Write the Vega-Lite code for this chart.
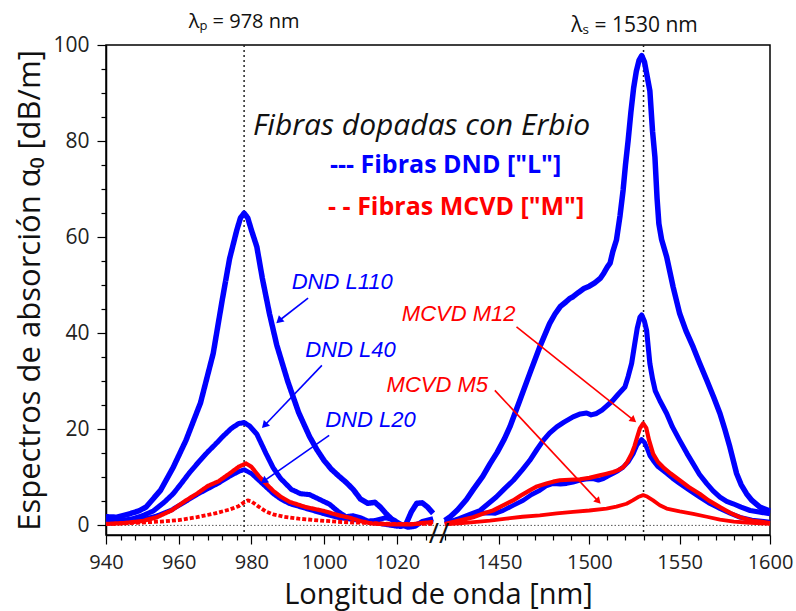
{
  "$schema": "https://vega.github.io/schema/vega-lite/v6.json",
  "width": 664,
  "height": 490,
  "autosize": {"type": "none"},
  "padding": {"left": 106, "top": 45, "right": 26, "bottom": 76},
  "background": "white",
  "config": {"view": {"stroke": "black", "strokeWidth": 1.5}},
  "resolve": {"axis": {"x": "independent", "y": "independent"}},
  "datasets": {
    "curves": [
      {"s":"L110","p":"L","x":940,"y":1.8},{"s":"L110","p":"L","x":943,"y":1.7},{"s":"L110","p":"L","x":946,"y":2.3},{"s":"L110","p":"L","x":949,"y":3.0},{"s":"L110","p":"L","x":951,"y":3.8},{"s":"L110","p":"L","x":955,"y":7.3},{"s":"L110","p":"L","x":958.5,"y":12.1},{"s":"L110","p":"L","x":962,"y":17.7},{"s":"L110","p":"L","x":966,"y":25.5},{"s":"L110","p":"L","x":969.5,"y":35.8},{"s":"L110","p":"L","x":972,"y":47},{"s":"L110","p":"L","x":974,"y":55.5},{"s":"L110","p":"L","x":976,"y":61.5},{"s":"L110","p":"L","x":977,"y":64},{"s":"L110","p":"L","x":978,"y":65},{"s":"L110","p":"L","x":979,"y":64},{"s":"L110","p":"L","x":980,"y":61.5},{"s":"L110","p":"L","x":981.5,"y":58},{"s":"L110","p":"L","x":983,"y":51.5},{"s":"L110","p":"L","x":985,"y":44},{"s":"L110","p":"L","x":987,"y":37.5},{"s":"L110","p":"L","x":990,"y":30},{"s":"L110","p":"L","x":993,"y":23.5},{"s":"L110","p":"L","x":996,"y":18.5},{"s":"L110","p":"L","x":998,"y":15.8},{"s":"L110","p":"L","x":1000,"y":13.5},{"s":"L110","p":"L","x":1002,"y":11.7},{"s":"L110","p":"L","x":1004,"y":10.3},{"s":"L110","p":"L","x":1006,"y":9},{"s":"L110","p":"L","x":1008,"y":7.5},{"s":"L110","p":"L","x":1010,"y":5.5},{"s":"L110","p":"L","x":1012,"y":4.6},{"s":"L110","p":"L","x":1014,"y":4.8},{"s":"L110","p":"L","x":1015.5,"y":3.8},{"s":"L110","p":"L","x":1017,"y":2.5},{"s":"L110","p":"L","x":1019,"y":1},{"s":"L110","p":"L","x":1021,"y":-0.2},{"s":"L110","p":"L","x":1022.5,"y":0.2},{"s":"L110","p":"L","x":1024,"y":2.8},{"s":"L110","p":"L","x":1025.5,"y":4.6},{"s":"L110","p":"L","x":1027,"y":4.7},{"s":"L110","p":"L","x":1028.5,"y":3.8},{"s":"L110","p":"L","x":1030,"y":2.5},
      {"s":"L40","p":"L","x":940,"y":1.2},{"s":"L40","p":"L","x":944,"y":1.0},{"s":"L40","p":"L","x":947,"y":1.3},{"s":"L40","p":"L","x":950,"y":2.0},{"s":"L40","p":"L","x":953,"y":3.0},{"s":"L40","p":"L","x":956,"y":4.8},{"s":"L40","p":"L","x":958.5,"y":6.6},{"s":"L40","p":"L","x":961,"y":9.0},{"s":"L40","p":"L","x":963,"y":11.0},{"s":"L40","p":"L","x":965.5,"y":13.2},{"s":"L40","p":"L","x":968,"y":15.3},{"s":"L40","p":"L","x":970,"y":16.8},{"s":"L40","p":"L","x":972,"y":18.4},{"s":"L40","p":"L","x":974.5,"y":20.2},{"s":"L40","p":"L","x":976.5,"y":21.2},{"s":"L40","p":"L","x":978,"y":21.4},{"s":"L40","p":"L","x":979.5,"y":20.7},{"s":"L40","p":"L","x":981.5,"y":19},{"s":"L40","p":"L","x":984,"y":15},{"s":"L40","p":"L","x":986,"y":12},{"s":"L40","p":"L","x":988,"y":9.8},{"s":"L40","p":"L","x":991,"y":7.5},{"s":"L40","p":"L","x":993.5,"y":6.6},{"s":"L40","p":"L","x":996,"y":6.4},{"s":"L40","p":"L","x":998.5,"y":5.5},{"s":"L40","p":"L","x":1001.5,"y":4.4},{"s":"L40","p":"L","x":1004,"y":2.8},{"s":"L40","p":"L","x":1006,"y":1.8},{"s":"L40","p":"L","x":1008,"y":2.0},{"s":"L40","p":"L","x":1010,"y":1.6},{"s":"L40","p":"L","x":1012,"y":0.9},{"s":"L40","p":"L","x":1014,"y":1.0},{"s":"L40","p":"L","x":1017,"y":1.6},{"s":"L40","p":"L","x":1019,"y":1.2},{"s":"L40","p":"L","x":1021,"y":0.3},{"s":"L40","p":"L","x":1023,"y":-0.4},{"s":"L40","p":"L","x":1025,"y":-0.2},{"s":"L40","p":"L","x":1027,"y":0.8},{"s":"L40","p":"L","x":1030,"y":1.4},
      {"s":"L20","p":"L","x":940,"y":0.5},{"s":"L20","p":"L","x":945,"y":0.6},{"s":"L20","p":"L","x":950,"y":1.2},{"s":"L20","p":"L","x":954,"y":2.0},{"s":"L20","p":"L","x":958,"y":3.2},{"s":"L20","p":"L","x":962,"y":5.0},{"s":"L20","p":"L","x":965,"y":6.4},{"s":"L20","p":"L","x":968,"y":7.6},{"s":"L20","p":"L","x":971,"y":8.8},{"s":"L20","p":"L","x":974,"y":10.2},{"s":"L20","p":"L","x":976.5,"y":11.2},{"s":"L20","p":"L","x":978,"y":11.6},{"s":"L20","p":"L","x":980,"y":10.8},{"s":"L20","p":"L","x":982,"y":9.4},{"s":"L20","p":"L","x":984,"y":8.0},{"s":"L20","p":"L","x":986,"y":6.6},{"s":"L20","p":"L","x":988,"y":5.5},{"s":"L20","p":"L","x":990.5,"y":4.5},{"s":"L20","p":"L","x":995,"y":3.5},{"s":"L20","p":"L","x":1000,"y":2.4},{"s":"L20","p":"L","x":1004,"y":1.6},{"s":"L20","p":"L","x":1010,"y":1.0},{"s":"L20","p":"L","x":1015,"y":0.4},{"s":"L20","p":"L","x":1020,"y":-0.2},{"s":"L20","p":"L","x":1024,"y":0.0},{"s":"L20","p":"L","x":1027,"y":0.6},{"s":"L20","p":"L","x":1030,"y":1.1},
      {"s":"M12","p":"L","x":940,"y":0.3},{"s":"M12","p":"L","x":945,"y":0.5},{"s":"M12","p":"L","x":950,"y":0.9},{"s":"M12","p":"L","x":954,"y":1.7},{"s":"M12","p":"L","x":958,"y":3.1},{"s":"M12","p":"L","x":962,"y":5.2},{"s":"M12","p":"L","x":965,"y":6.6},{"s":"M12","p":"L","x":968,"y":8.2},{"s":"M12","p":"L","x":971,"y":9.2},{"s":"M12","p":"L","x":974,"y":10.8},{"s":"M12","p":"L","x":976.5,"y":12.2},{"s":"M12","p":"L","x":978.5,"y":12.9},{"s":"M12","p":"L","x":980,"y":12.2},{"s":"M12","p":"L","x":982,"y":10.3},{"s":"M12","p":"L","x":984,"y":8.7},{"s":"M12","p":"L","x":986,"y":7.2},{"s":"M12","p":"L","x":988,"y":6.0},{"s":"M12","p":"L","x":990.5,"y":4.9},{"s":"M12","p":"L","x":995,"y":3.8},{"s":"M12","p":"L","x":1000,"y":3.0},{"s":"M12","p":"L","x":1004,"y":2.1},{"s":"M12","p":"L","x":1007,"y":1.6},{"s":"M12","p":"L","x":1010,"y":0.9},{"s":"M12","p":"L","x":1013,"y":0.4},{"s":"M12","p":"L","x":1018,"y":0.2},{"s":"M12","p":"L","x":1024,"y":0.2},{"s":"M12","p":"L","x":1027,"y":0.5},{"s":"M12","p":"L","x":1030,"y":0.7},
      {"s":"M5","p":"L","x":940,"y":0.3},{"s":"M5","p":"L","x":945,"y":0.4},{"s":"M5","p":"L","x":950,"y":0.6},{"s":"M5","p":"L","x":955,"y":0.8},{"s":"M5","p":"L","x":960,"y":1.1},{"s":"M5","p":"L","x":965,"y":1.7},{"s":"M5","p":"L","x":970,"y":2.5},{"s":"M5","p":"L","x":974,"y":3.3},{"s":"M5","p":"L","x":976.5,"y":4.0},{"s":"M5","p":"L","x":978,"y":4.8},{"s":"M5","p":"L","x":979,"y":5.2},{"s":"M5","p":"L","x":980,"y":5.0},{"s":"M5","p":"L","x":982,"y":3.9},{"s":"M5","p":"L","x":984,"y":2.9},{"s":"M5","p":"L","x":986,"y":2.3},{"s":"M5","p":"L","x":989,"y":1.8},{"s":"M5","p":"L","x":993,"y":1.4},{"s":"M5","p":"L","x":999,"y":1.0},{"s":"M5","p":"L","x":1005,"y":0.7},{"s":"M5","p":"L","x":1012,"y":0.5},{"s":"M5","p":"L","x":1020,"y":0.3},{"s":"M5","p":"L","x":1030,"y":0.3},
      {"s":"L110","p":"R","x":1420,"y":1.0},{"s":"L110","p":"R","x":1423,"y":1.8},{"s":"L110","p":"R","x":1427,"y":3.2},{"s":"L110","p":"R","x":1432,"y":5.4},{"s":"L110","p":"R","x":1436,"y":7.6},{"s":"L110","p":"R","x":1441,"y":10.2},{"s":"L110","p":"R","x":1445,"y":12.8},{"s":"L110","p":"R","x":1449,"y":15.2},{"s":"L110","p":"R","x":1453,"y":18},{"s":"L110","p":"R","x":1456,"y":20.5},{"s":"L110","p":"R","x":1461.5,"y":26},{"s":"L110","p":"R","x":1467,"y":31.6},{"s":"L110","p":"R","x":1472.5,"y":37.1},{"s":"L110","p":"R","x":1478,"y":42},{"s":"L110","p":"R","x":1481,"y":44},{"s":"L110","p":"R","x":1484,"y":45.6},{"s":"L110","p":"R","x":1487,"y":46.5},{"s":"L110","p":"R","x":1489,"y":47.2},{"s":"L110","p":"R","x":1491,"y":47.6},{"s":"L110","p":"R","x":1494,"y":48.5},{"s":"L110","p":"R","x":1497,"y":49.3},{"s":"L110","p":"R","x":1500,"y":49.8},{"s":"L110","p":"R","x":1503,"y":50.5},{"s":"L110","p":"R","x":1506,"y":51.4},{"s":"L110","p":"R","x":1508,"y":52.5},{"s":"L110","p":"R","x":1510,"y":53.8},{"s":"L110","p":"R","x":1511.5,"y":54.6},{"s":"L110","p":"R","x":1513,"y":57},{"s":"L110","p":"R","x":1515,"y":59.4},{"s":"L110","p":"R","x":1517,"y":64.5},{"s":"L110","p":"R","x":1518.7,"y":69.8},{"s":"L110","p":"R","x":1520,"y":75},{"s":"L110","p":"R","x":1521.5,"y":80.2},{"s":"L110","p":"R","x":1523,"y":86},{"s":"L110","p":"R","x":1524.5,"y":91},{"s":"L110","p":"R","x":1526,"y":94.5},{"s":"L110","p":"R","x":1527.5,"y":96.8},{"s":"L110","p":"R","x":1529,"y":97.8},{"s":"L110","p":"R","x":1530.5,"y":96.5},{"s":"L110","p":"R","x":1532,"y":93.5},{"s":"L110","p":"R","x":1533.5,"y":90.5},{"s":"L110","p":"R","x":1535,"y":82},{"s":"L110","p":"R","x":1536.3,"y":76.7},{"s":"L110","p":"R","x":1537.5,"y":68},{"s":"L110","p":"R","x":1538.5,"y":62.8},{"s":"L110","p":"R","x":1540,"y":59.5},{"s":"L110","p":"R","x":1542.8,"y":55.9},{"s":"L110","p":"R","x":1546.4,"y":49.6},{"s":"L110","p":"R","x":1550,"y":44.1},{"s":"L110","p":"R","x":1553.5,"y":40.5},{"s":"L110","p":"R","x":1557.5,"y":37.1},{"s":"L110","p":"R","x":1561,"y":33.8},{"s":"L110","p":"R","x":1565,"y":30.2},{"s":"L110","p":"R","x":1569,"y":26.5},{"s":"L110","p":"R","x":1572.3,"y":23.3},{"s":"L110","p":"R","x":1575,"y":20},{"s":"L110","p":"R","x":1577.8,"y":16.3},{"s":"L110","p":"R","x":1581.5,"y":10.8},{"s":"L110","p":"R","x":1584,"y":8.5},{"s":"L110","p":"R","x":1587,"y":6.6},{"s":"L110","p":"R","x":1590,"y":5.2},{"s":"L110","p":"R","x":1594.4,"y":3.8},{"s":"L110","p":"R","x":1600,"y":3.0},
      {"s":"L40","p":"R","x":1420,"y":0.5},{"s":"L40","p":"R","x":1424,"y":0.9},{"s":"L40","p":"R","x":1428,"y":1.4},{"s":"L40","p":"R","x":1434,"y":2.3},{"s":"L40","p":"R","x":1439.5,"y":3.1},{"s":"L40","p":"R","x":1444,"y":4.5},{"s":"L40","p":"R","x":1448.5,"y":5.9},{"s":"L40","p":"R","x":1453,"y":7.6},{"s":"L40","p":"R","x":1458,"y":9.4},{"s":"L40","p":"R","x":1463,"y":11.6},{"s":"L40","p":"R","x":1467,"y":13.5},{"s":"L40","p":"R","x":1471,"y":15.8},{"s":"L40","p":"R","x":1474.5,"y":17.7},{"s":"L40","p":"R","x":1478,"y":19.2},{"s":"L40","p":"R","x":1482,"y":20.5},{"s":"L40","p":"R","x":1486,"y":21.5},{"s":"L40","p":"R","x":1491,"y":22.6},{"s":"L40","p":"R","x":1495,"y":23.2},{"s":"L40","p":"R","x":1498.5,"y":23.4},{"s":"L40","p":"R","x":1501,"y":23.0},{"s":"L40","p":"R","x":1504,"y":23.3},{"s":"L40","p":"R","x":1507,"y":24},{"s":"L40","p":"R","x":1510,"y":25},{"s":"L40","p":"R","x":1513,"y":26},{"s":"L40","p":"R","x":1516,"y":27.3},{"s":"L40","p":"R","x":1519.7,"y":28.8},{"s":"L40","p":"R","x":1521.5,"y":31},{"s":"L40","p":"R","x":1523.4,"y":33.7},{"s":"L40","p":"R","x":1525,"y":37.5},{"s":"L40","p":"R","x":1526.5,"y":41},{"s":"L40","p":"R","x":1528,"y":43.3},{"s":"L40","p":"R","x":1529,"y":43.8},{"s":"L40","p":"R","x":1530.5,"y":42.5},{"s":"L40","p":"R","x":1531.7,"y":40.6},{"s":"L40","p":"R","x":1533.5,"y":33.7},{"s":"L40","p":"R","x":1535,"y":30.5},{"s":"L40","p":"R","x":1536.5,"y":28},{"s":"L40","p":"R","x":1539,"y":26},{"s":"L40","p":"R","x":1542.8,"y":23.3},{"s":"L40","p":"R","x":1546,"y":20.5},{"s":"L40","p":"R","x":1550,"y":17.7},{"s":"L40","p":"R","x":1554,"y":15},{"s":"L40","p":"R","x":1557.5,"y":12.8},{"s":"L40","p":"R","x":1561,"y":10.6},{"s":"L40","p":"R","x":1565,"y":8.7},{"s":"L40","p":"R","x":1568.5,"y":7.2},{"s":"L40","p":"R","x":1572.3,"y":5.9},{"s":"L40","p":"R","x":1576,"y":5.0},{"s":"L40","p":"R","x":1579.6,"y":4.5},{"s":"L40","p":"R","x":1584,"y":3.8},{"s":"L40","p":"R","x":1589,"y":3.1},{"s":"L40","p":"R","x":1594,"y":2.8},{"s":"L40","p":"R","x":1600,"y":2.4},
      {"s":"L20","p":"R","x":1420,"y":0.5},{"s":"L20","p":"R","x":1428,"y":1.3},{"s":"L20","p":"R","x":1436,"y":2.4},{"s":"L20","p":"R","x":1444,"y":2.6},{"s":"L20","p":"R","x":1448,"y":2.5},{"s":"L20","p":"R","x":1452.3,"y":3.1},{"s":"L20","p":"R","x":1458,"y":4.2},{"s":"L20","p":"R","x":1463.4,"y":5.2},{"s":"L20","p":"R","x":1468,"y":6.4},{"s":"L20","p":"R","x":1472.6,"y":7.3},{"s":"L20","p":"R","x":1476,"y":8.2},{"s":"L20","p":"R","x":1480,"y":8.7},{"s":"L20","p":"R","x":1484,"y":8.6},{"s":"L20","p":"R","x":1487.4,"y":8.7},{"s":"L20","p":"R","x":1491,"y":9.0},{"s":"L20","p":"R","x":1494.8,"y":9.4},{"s":"L20","p":"R","x":1498,"y":9.6},{"s":"L20","p":"R","x":1502,"y":9.7},{"s":"L20","p":"R","x":1505,"y":9.4},{"s":"L20","p":"R","x":1507.7,"y":9.7},{"s":"L20","p":"R","x":1510,"y":10.2},{"s":"L20","p":"R","x":1513.2,"y":10.8},{"s":"L20","p":"R","x":1516,"y":11.4},{"s":"L20","p":"R","x":1518.7,"y":12.1},{"s":"L20","p":"R","x":1521.5,"y":13.2},{"s":"L20","p":"R","x":1524.3,"y":14.9},{"s":"L20","p":"R","x":1526.5,"y":16.8},{"s":"L20","p":"R","x":1528.9,"y":17.9},{"s":"L20","p":"R","x":1530.5,"y":17.3},{"s":"L20","p":"R","x":1532,"y":16},{"s":"L20","p":"R","x":1533.5,"y":14.5},{"s":"L20","p":"R","x":1535.3,"y":13.5},{"s":"L20","p":"R","x":1538,"y":12.2},{"s":"L20","p":"R","x":1542.8,"y":10.8},{"s":"L20","p":"R","x":1546,"y":9.8},{"s":"L20","p":"R","x":1550,"y":8.7},{"s":"L20","p":"R","x":1555,"y":7.4},{"s":"L20","p":"R","x":1561,"y":5.9},{"s":"L20","p":"R","x":1566,"y":4.7},{"s":"L20","p":"R","x":1572.3,"y":3.5},{"s":"L20","p":"R","x":1578,"y":2.5},{"s":"L20","p":"R","x":1583.4,"y":1.7},{"s":"L20","p":"R","x":1590,"y":1.1},{"s":"L20","p":"R","x":1600,"y":0.7},
      {"s":"M12","p":"R","x":1420,"y":0.3},{"s":"M12","p":"R","x":1428,"y":1.0},{"s":"M12","p":"R","x":1435.7,"y":1.7},{"s":"M12","p":"R","x":1441,"y":2.4},{"s":"M12","p":"R","x":1446.7,"y":3.1},{"s":"M12","p":"R","x":1452,"y":4.1},{"s":"M12","p":"R","x":1457.8,"y":5.2},{"s":"M12","p":"R","x":1462,"y":6.2},{"s":"M12","p":"R","x":1467,"y":7.3},{"s":"M12","p":"R","x":1471,"y":8.1},{"s":"M12","p":"R","x":1476.3,"y":8.7},{"s":"M12","p":"R","x":1480,"y":9.1},{"s":"M12","p":"R","x":1483.7,"y":9.4},{"s":"M12","p":"R","x":1489,"y":9.5},{"s":"M12","p":"R","x":1494.8,"y":9.6},{"s":"M12","p":"R","x":1500,"y":9.9},{"s":"M12","p":"R","x":1505.8,"y":10.4},{"s":"M12","p":"R","x":1509,"y":10.7},{"s":"M12","p":"R","x":1513.2,"y":11.1},{"s":"M12","p":"R","x":1516,"y":11.5},{"s":"M12","p":"R","x":1518.7,"y":12.1},{"s":"M12","p":"R","x":1521,"y":13.2},{"s":"M12","p":"R","x":1523.4,"y":14.9},{"s":"M12","p":"R","x":1525,"y":16.5},{"s":"M12","p":"R","x":1526.5,"y":18.4},{"s":"M12","p":"R","x":1528,"y":20.2},{"s":"M12","p":"R","x":1529.8,"y":21.2},{"s":"M12","p":"R","x":1531.5,"y":20.3},{"s":"M12","p":"R","x":1533,"y":17.8},{"s":"M12","p":"R","x":1535.3,"y":14.9},{"s":"M12","p":"R","x":1538,"y":13.2},{"s":"M12","p":"R","x":1540.9,"y":12.1},{"s":"M12","p":"R","x":1545,"y":10.8},{"s":"M12","p":"R","x":1550,"y":9.4},{"s":"M12","p":"R","x":1555,"y":8.0},{"s":"M12","p":"R","x":1561,"y":6.6},{"s":"M12","p":"R","x":1566,"y":5.2},{"s":"M12","p":"R","x":1572.3,"y":3.8},{"s":"M12","p":"R","x":1578,"y":2.6},{"s":"M12","p":"R","x":1583.4,"y":1.7},{"s":"M12","p":"R","x":1590,"y":1.0},{"s":"M12","p":"R","x":1600,"y":0.5},
      {"s":"M5","p":"R","x":1420,"y":0.2},{"s":"M5","p":"R","x":1428,"y":0.4},{"s":"M5","p":"R","x":1436,"y":0.7},{"s":"M5","p":"R","x":1445,"y":1.0},{"s":"M5","p":"R","x":1454,"y":1.4},{"s":"M5","p":"R","x":1463,"y":1.8},{"s":"M5","p":"R","x":1472.6,"y":2.1},{"s":"M5","p":"R","x":1482,"y":2.5},{"s":"M5","p":"R","x":1491,"y":2.8},{"s":"M5","p":"R","x":1500,"y":3.1},{"s":"M5","p":"R","x":1509.5,"y":3.5},{"s":"M5","p":"R","x":1515,"y":3.9},{"s":"M5","p":"R","x":1520.6,"y":4.5},{"s":"M5","p":"R","x":1524,"y":5.2},{"s":"M5","p":"R","x":1527,"y":5.9},{"s":"M5","p":"R","x":1529.8,"y":6.3},{"s":"M5","p":"R","x":1532,"y":6.0},{"s":"M5","p":"R","x":1535.3,"y":5.2},{"s":"M5","p":"R","x":1539,"y":4.2},{"s":"M5","p":"R","x":1542.8,"y":3.5},{"s":"M5","p":"R","x":1550,"y":2.9},{"s":"M5","p":"R","x":1557.5,"y":2.4},{"s":"M5","p":"R","x":1565,"y":1.8},{"s":"M5","p":"R","x":1572.3,"y":1.2},{"s":"M5","p":"R","x":1580,"y":0.8},{"s":"M5","p":"R","x":1587,"y":0.6},{"s":"M5","p":"R","x":1600,"y":0.3}
    ],
    "notes": [
      {"s":"L110","t":"DND L110","x":991.1,"y":50.7,"ax":995.6,"ay":47.3,"bx":987.6,"by":42.6},
      {"s":"L40","t":"DND L40","x":994.8,"y":36.5,"ax":999.4,"ay":33.3,"bx":983.6,"by":20.8},
      {"s":"L20","t":"DND L20","x":1000.3,"y":21.9,"ax":1001.4,"ay":18.75,"bx":983.4,"by":9.2},
      {"s":"M12","t":"MCVD M12","x":1021.4,"y":44.1,"ax":1459.7,"ay":41.3,"bx":1524.5,"by":21.9},
      {"s":"M5","t":"MCVD M5","x":1017.2,"y":29.2,"ax":1447.7,"ay":28.1,"bx":1505,"by":5.0}
    ]
  },
  "layer": [
    {
      "data": {"values": [{"y": 0}]},
      "mark": {"type": "rule", "color": "#555555", "strokeDash": [1.5, 2], "strokeWidth": 1},
      "encoding": {"y": {"field": "y", "type": "quantitative", "axis": null}}
    },
    {
      "data": {"values": [{"x": 978}, {"x": 1530}]},
      "mark": {"type": "rule", "color": "#222222", "strokeDash": [2, 3], "strokeWidth": 1.5},
      "encoding": {"x": {"field": "x", "type": "quantitative", "axis": null}}
    },
    {
      "data": {"name": "curves"},
      "transform": [{"filter": "datum.p == 'L'"}],
      "mark": {"type": "line", "strokeJoin": "round"},
      "encoding": {
        "x": {
          "field": "x", "type": "quantitative",
          "scale": {"domain": [940, 1030, 1420, 1600], "range": [0, 327.1, 338.8, 664], "nice": false, "zero": false},
          "axis": {
            "orient": "bottom",
            "title": "Longitud de onda [nm]",
            "values": [940, 960, 980, 1000, 1020, 1450, 1500, 1550, 1600],
            "format": "d",
            "tickSize": 9,
            "labelOverlap": false, "labelFlush": false, "grid": false,
            "labelFont": "Open Sans", "labelFontSize": 20, "labelColor": "#222222", "labelPadding": 8,
            "tickColor": "black", "tickWidth": 1.2, "domainColor": "black", "domainWidth": 1.5,
            "titleFont": "Open Sans", "titleFontSize": 29, "titleFontWeight": "normal", "titleColor": "#111111", "titlePadding": 8
          }
        },
        "y": {
          "field": "y", "type": "quantitative",
          "scale": {"domain": [-2, 100], "nice": false, "zero": false},
          "axis": {
            "orient": "left",
            "title": "Espectros de absorción α₀ [dB/m]",
            "values": [0, 20, 40, 60, 80, 100],
            "tickSize": 9,
            "labelOverlap": false, "labelFlush": false, "grid": false,
            "labelFont": "Open Sans", "labelFontSize": 21, "labelColor": "#222222", "labelPadding": 8,
            "tickColor": "black", "tickWidth": 1.2, "domainColor": "black", "domainWidth": 1.5,
            "titleFont": "Open Sans", "titleFontSize": 31, "titleFontWeight": "normal", "titleColor": "#111111", "titlePadding": 6
          }
        },
        "color": {"field": "s", "type": "nominal", "scale": {"domain": ["L110","L40","L20","M12","M5"], "range": ["#0000ff","#0000ff","#0000ff","#ff0000","#ff0000"]}, "legend": null},
        "strokeWidth": {"field": "s", "type": "nominal", "scale": {"domain": ["L110","L40","L20","M12","M5"], "range": [5.5, 3.8, 2.6, 2.6, 2.4]}, "legend": null},
        "strokeDash": {"field": "s", "type": "nominal", "scale": {"domain": ["L110","L40","L20","M12","M5"], "range": [[1,0],[1,0],[1,0],[1,0],[4,2]]}, "legend": null}
      }
    },
    {
      "data": {"name": "curves"},
      "transform": [{"filter": "datum.p == 'R'"}],
      "mark": {"type": "line", "strokeJoin": "round"},
      "encoding": {
        "x": {
          "field": "x", "type": "quantitative",
          "axis": {
            "orient": "bottom", "title": null, "labels": false, "domain": false, "grid": false,
            "values": [944,948,952,956,964,968,972,976,984,988,992,996,1004,1008,1012,1016,1024,1028,1420,1430,1440,1460,1470,1480,1490,1510,1520,1530,1540,1560,1570,1580,1590],
            "tickSize": 5, "tickColor": "black", "tickWidth": 1.2
          }
        },
        "y": {
          "field": "y", "type": "quantitative",
          "axis": {
            "orient": "left", "title": null, "labels": false, "domain": false, "grid": false,
            "values": [5,10,15,25,30,35,45,50,55,65,70,75,85,90,95],
            "tickSize": 5, "tickColor": "black", "tickWidth": 1.2
          }
        },
        "color": {"field": "s", "type": "nominal", "legend": null},
        "strokeWidth": {"field": "s", "type": "nominal", "legend": null}
      }
    },
    {
      "data": {"name": "notes"},
      "mark": {"type": "rule", "strokeWidth": 1.6},
      "encoding": {
        "x": {"field": "ax", "type": "quantitative", "axis": null},
        "y": {"field": "ay", "type": "quantitative", "axis": null},
        "x2": {"field": "bx"},
        "y2": {"field": "by"},
        "color": {"field": "s", "type": "nominal", "legend": null}
      }
    },
    {
      "data": {"name": "notes"},
      "transform": [{"filter": "datum.s == 'L110'"}],
      "mark": {"type": "point", "shape": "triangle-up", "filled": true, "size": 70, "angle": 228, "opacity": 1},
      "encoding": {"x": {"field": "bx", "type": "quantitative", "axis": null}, "y": {"field": "by", "type": "quantitative", "axis": null}, "color": {"field": "s", "type": "nominal", "legend": null}}
    },
    {
      "data": {"name": "notes"},
      "transform": [{"filter": "datum.s == 'L40'"}],
      "mark": {"type": "point", "shape": "triangle-up", "filled": true, "size": 70, "angle": 223, "opacity": 1},
      "encoding": {"x": {"field": "bx", "type": "quantitative", "axis": null}, "y": {"field": "by", "type": "quantitative", "axis": null}, "color": {"field": "s", "type": "nominal", "legend": null}}
    },
    {
      "data": {"name": "notes"},
      "transform": [{"filter": "datum.s == 'L20'"}],
      "mark": {"type": "point", "shape": "triangle-up", "filled": true, "size": 70, "angle": 235, "opacity": 1},
      "encoding": {"x": {"field": "bx", "type": "quantitative", "axis": null}, "y": {"field": "by", "type": "quantitative", "axis": null}, "color": {"field": "s", "type": "nominal", "legend": null}}
    },
    {
      "data": {"name": "notes"},
      "transform": [{"filter": "datum.s == 'M12'"}],
      "mark": {"type": "point", "shape": "triangle-up", "filled": true, "size": 60, "angle": 129, "opacity": 1},
      "encoding": {"x": {"field": "bx", "type": "quantitative", "axis": null}, "y": {"field": "by", "type": "quantitative", "axis": null}, "color": {"field": "s", "type": "nominal", "legend": null}}
    },
    {
      "data": {"name": "notes"},
      "transform": [{"filter": "datum.s == 'M5'"}],
      "mark": {"type": "point", "shape": "triangle-up", "filled": true, "size": 60, "angle": 137, "opacity": 1},
      "encoding": {"x": {"field": "bx", "type": "quantitative", "axis": null}, "y": {"field": "by", "type": "quantitative", "axis": null}, "color": {"field": "s", "type": "nominal", "legend": null}}
    },
    {
      "data": {"name": "notes"},
      "mark": {"type": "text", "align": "left", "baseline": "middle", "font": "Liberation Sans", "fontStyle": "italic", "fontSize": 22},
      "encoding": {
        "x": {"field": "x", "type": "quantitative", "axis": null},
        "y": {"field": "y", "type": "quantitative", "axis": null},
        "text": {"field": "t"},
        "color": {"field": "s", "type": "nominal", "legend": null}
      }
    },
    {
      "data": {"values": [{"t": "Fibras dopadas con Erbio", "x": 980.45, "y": 81.25}]},
      "mark": {"type": "text", "align": "left", "baseline": "alphabetic", "font": "Open Sans", "fontStyle": "italic", "fontSize": 30, "color": "#111111"},
      "encoding": {"x": {"field": "x", "type": "quantitative", "axis": null}, "y": {"field": "y", "type": "quantitative", "axis": null}, "text": {"field": "t"}}
    },
    {
      "data": {"values": [{"t": "--- Fibras DND [\"L\"]", "x": 1001.6, "y": 73.3}]},
      "mark": {"type": "text", "align": "left", "baseline": "alphabetic", "font": "Open Sans", "fontWeight": "bold", "fontSize": 25, "color": "#0000ff"},
      "encoding": {"x": {"field": "x", "type": "quantitative", "axis": null}, "y": {"field": "y", "type": "quantitative", "axis": null}, "text": {"field": "t"}}
    },
    {
      "data": {"values": [{"t": "- - Fibras MCVD [\"M\"]", "x": 1001.1, "y": 64.6}]},
      "mark": {"type": "text", "align": "left", "baseline": "alphabetic", "font": "Open Sans", "fontWeight": "bold", "fontSize": 25, "color": "#ff0000"},
      "encoding": {"x": {"field": "x", "type": "quantitative", "axis": null}, "y": {"field": "y", "type": "quantitative", "axis": null}, "text": {"field": "t"}}
    },
    {
      "data": {"values": [{"t": "λₚ = 978 nm", "x": 978, "y": 100}]},
      "mark": {"type": "text", "align": "center", "baseline": "alphabetic", "dy": -17, "font": "Open Sans", "fontSize": 20, "color": "#111111"},
      "encoding": {"x": {"field": "x", "type": "quantitative", "axis": null}, "y": {"field": "y", "type": "quantitative", "axis": null}, "text": {"field": "t"}}
    },
    {
      "data": {"values": [{"t": "λₛ = 1530 nm", "x": 1525, "y": 100}]},
      "mark": {"type": "text", "align": "center", "baseline": "alphabetic", "dy": -13, "font": "Open Sans", "fontSize": 21, "color": "#111111"},
      "encoding": {"x": {"field": "x", "type": "quantitative", "axis": null}, "y": {"field": "y", "type": "quantitative", "axis": null}, "text": {"field": "t"}}
    },
    {
      "data": {"values": [{"t": "//", "x": 1225, "y": -2}]},
      "mark": {"type": "text", "align": "center", "baseline": "middle", "font": "Open Sans", "fontSize": 28, "color": "#111111"},
      "encoding": {"x": {"field": "x", "type": "quantitative", "axis": null}, "y": {"field": "y", "type": "quantitative", "axis": null}, "text": {"field": "t"}}
    }
  ]
}
